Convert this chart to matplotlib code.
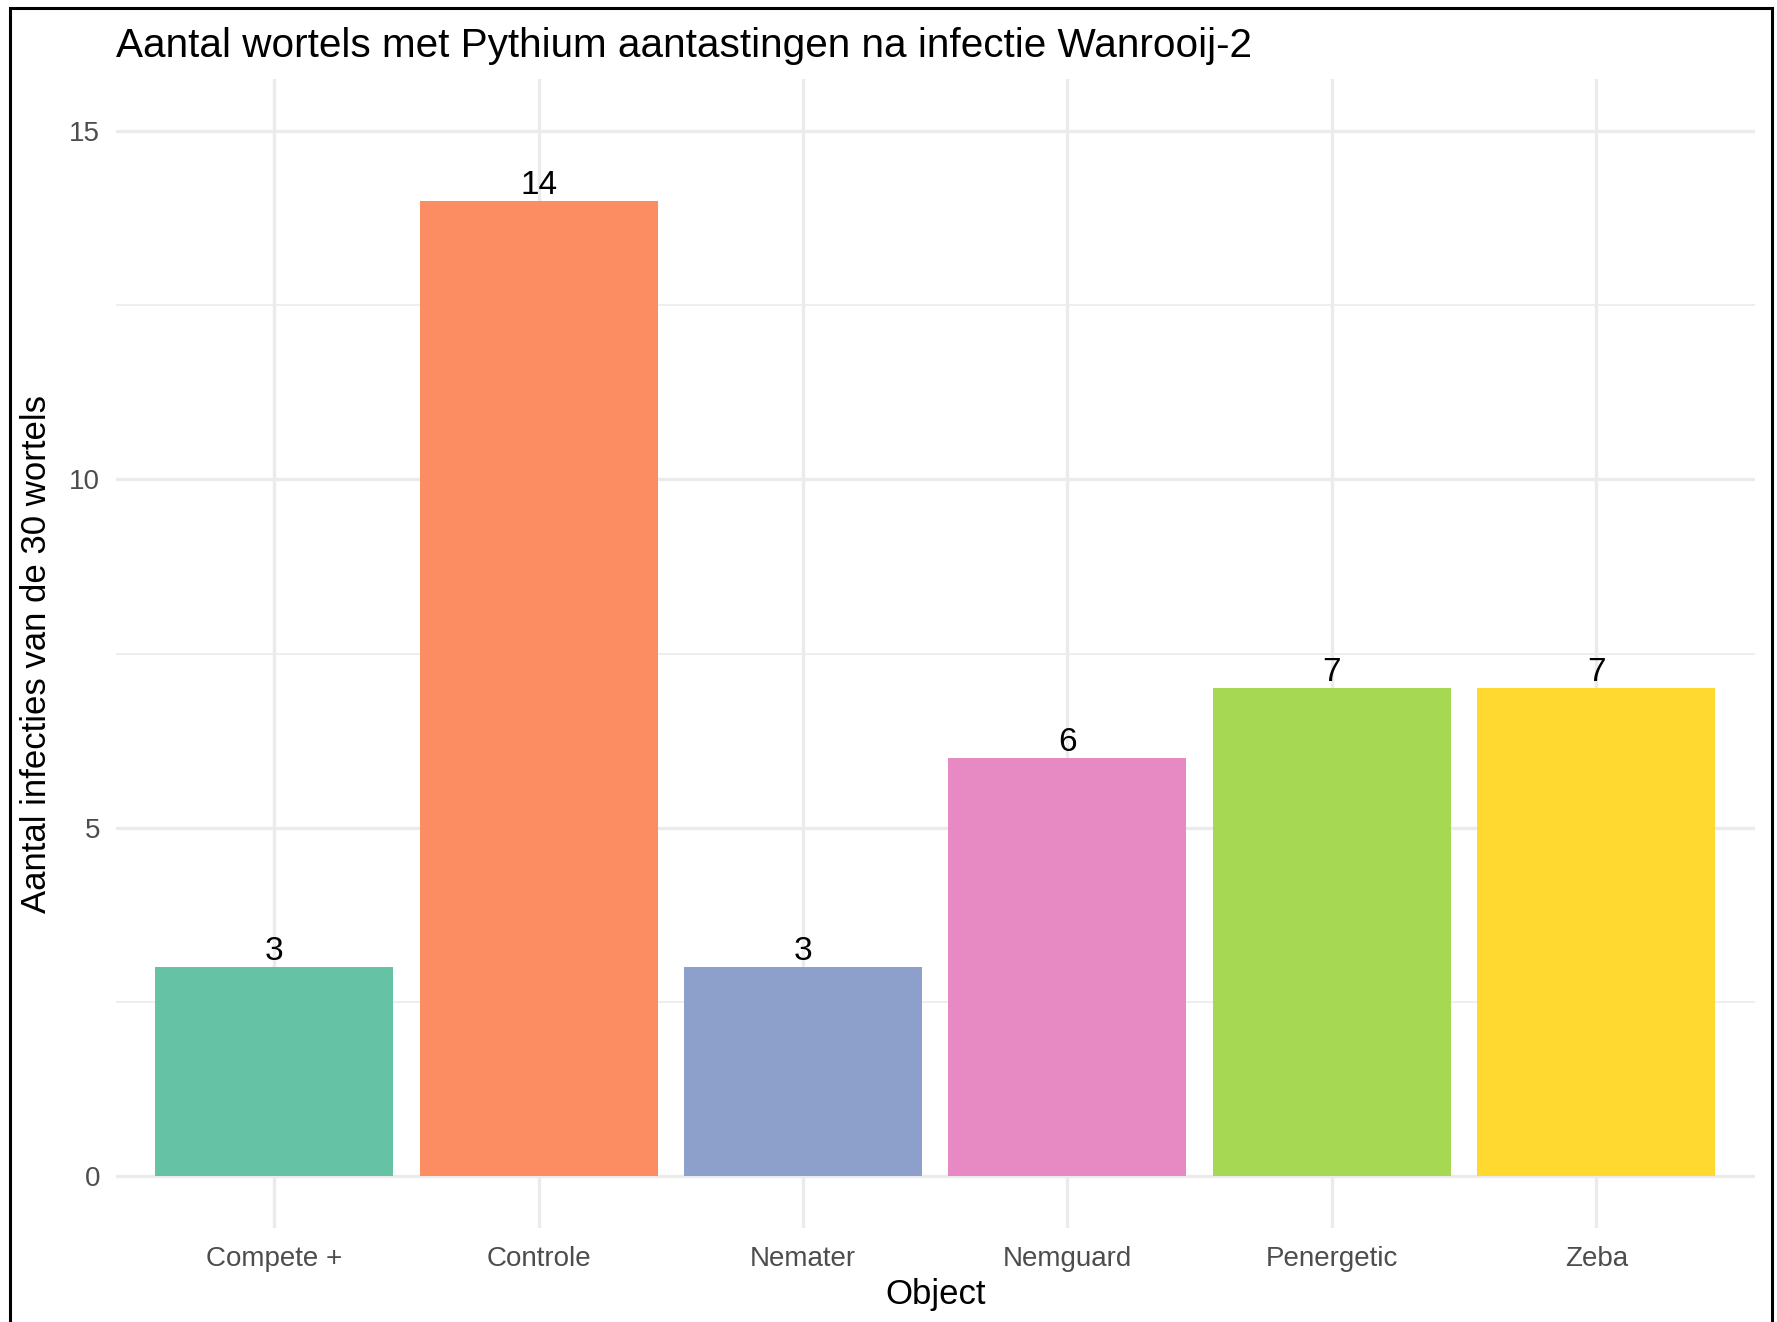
import matplotlib.pyplot as plt
from matplotlib.patches import Rectangle

plt.rcParams['font.family'] = ['Liberation Sans', 'DejaVu Sans']

# data
objects = ['Compete +', 'Controle', 'Nemater', 'Nemguard', 'Penergetic', 'Zeba']
infections = [3, 14, 3, 6, 7, 7]
colors = ['#66C2A5', '#FC8D62', '#8DA0CB', '#E78AC3', '#A6D854', '#FFD92F']
yticks = [0, 5, 10, 15]
yminor = [2.5, 7.5, 12.5]

fig = plt.figure(figsize=(17.77, 13.22), dpi=100)
ax = fig.add_axes([0.0650, 0.0711, 0.9226, 0.8691])

x = list(range(len(objects)))
ax.bar(x, infections, width=0.9, color=colors, zorder=2)
for xi, v in zip(x, infections):
    ax.annotate(str(v), (xi, v), xytext=(0, 0), textcoords='offset points',
                ha='center', va='bottom', fontsize=24, color='black', zorder=3)

ax.set_xlim(-0.6, len(objects) - 0.4)
ax.set_ylim(-0.75, 15.75)
ax.set_xticks(x)
ax.set_xticklabels(objects)
ax.set_yticks(yticks)
ax.set_yticks(yminor, minor=True)

# grid, theme_minimal style
for yv in yticks:
    ax.axhline(yv, color='#EBEBEB', lw=2.4, zorder=1)
for yv in yminor:
    ax.axhline(yv, color='#EBEBEB', lw=1.2, zorder=1)
for xi in x:
    ax.axvline(xi, color='#EBEBEB', lw=2.4, zorder=1)

for s in ax.spines.values():
    s.set_visible(False)
ax.tick_params(which='both', length=0, labelsize=20, labelcolor='#4D4D4D')
ax.tick_params(axis='y', pad=11)
ax.tick_params(axis='x', pad=13)

ax.set_xlabel('Object', fontsize=25, labelpad=4)
ax.set_ylabel('Aantal infecties van de 30 wortels', fontsize=25, labelpad=12)
ax.set_title('Aantal wortels met Pythium aantastingen na infectie Wanrooij-2',
             fontsize=29.2, loc='left', pad=16)

# black frame round the figure
fig.patches.append(Rectangle((10 / 1777, -0.05), 1762 / 1777, 1.05 - 8 / 1322,
                             transform=fig.transFigure, fill=False,
                             edgecolor='black', lw=2.2, clip_on=False))

fig.savefig('out.png', dpi=100)
